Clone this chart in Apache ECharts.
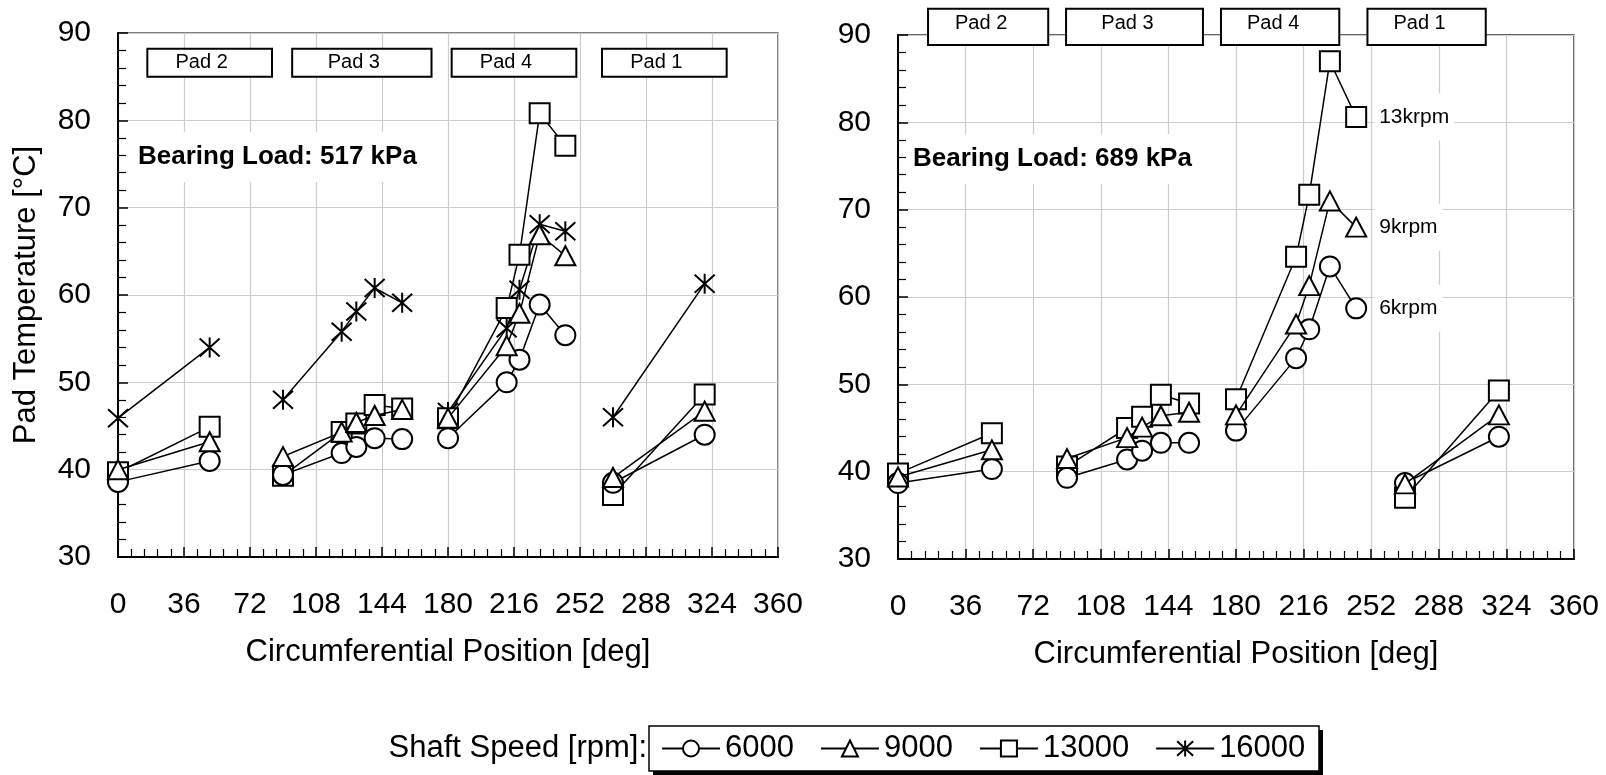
<!DOCTYPE html>
<html><head><meta charset="utf-8">
<script src="https://cdn.jsdelivr.net/npm/echarts@6/dist/echarts.min.js"></script>
<style>html,body{margin:0;padding:0;background:#fff}#c{width:1606px;height:775px}</style>
</head><body><div id="c"></div>
<script>
// ---- data ----
const positions = [0, 50, null, 90, 122, 130, 140, 155, null, 180, 212, 219, 230, 244, null, 270, 320];
const speeds = ['6000', '9000', '13000', '16000'];
// Bearing load 517 kPa (left)
const load517_6000  = [38.6, 41.0, null, 39.4, 41.9, 42.6, 43.6, 43.5, null, 43.6, 50.0, 52.6, 58.9, 55.4, null, 38.5, 44.0];
const load517_9000  = [40.0, 43.2, null, 41.5, 44.3, 45.4, 46.2, 46.9, null, 45.9, 54.2, 57.9, 66.9, 64.5, null, 39.1, 46.7];
const load517_13000 = [39.7, 44.9, null, 39.3, 44.3, 45.3, 47.4, 47.0, null, 45.9, 58.5, 64.6, 80.8, 77.1, null, 37.1, 48.6];
const load517_16000 = [45.9, 54.0, null, 48.0, 55.8, 58.1, 60.8, 59.1, null, 46.6, 56.2, 60.6, 68.1, 67.3, null, 46.0, 61.3];
// Bearing load 689 kPa (right)
const load689_6000  = [38.7, 40.3, null, 39.3, 41.4, 42.4, 43.3, 43.3, null, 44.7, 53.0, 56.3, 63.5, 58.7, null, 38.7, 44.0];
const load689_9000  = [39.4, 42.5, null, 41.5, 43.9, 45.1, 46.4, 46.8, null, 46.5, 56.9, 61.3, 71.0, 68.0, null, 38.6, 46.5];
const load689_13000 = [39.8, 44.4, null, 40.6, 45.0, 46.3, 48.8, 47.8, null, 48.3, 64.6, 71.7, 87.0, 80.6, null, 37.0, 49.3];
const endLabels689 = ['6krpm', '9krpm', '13krpm'];
const endLabelIndex = 13;
const padNames = ['Pad 2', 'Pad 3', 'Pad 4', 'Pad 1'];
const padSpansLeft  = [[16, 84], [95, 171], [182, 250], [264, 332]];
const padSpansRight = [[16, 80], [89.5, 162.4], [172, 235], [250, 313]];
const loadTexts = ['Bearing Load: 517 kPa', 'Bearing Load: 689 kPa'];
const xTitle = 'Circumferential Position [deg]';
const yTitle = 'Pad Temperature [°C]';
const legendTitle = 'Shaft Speed [rpm]:';

// ---- styles ----
const FONT = "'Liberation Sans', Arial, sans-serif";
const STAR = 'path://M10,0L10,20M1,1L19,19M1,19L19,1';
const symbols = { '6000': 'circle', '9000': 'triangle', '13000': 'rect', '16000': STAR };
const symSizes = { '6000': 20, '9000': [20, 19], '13000': 20, '16000': 20 };
const zOrder = { '16000': 2, '13000': 3, '6000': 4, '9000': 5 };

function buildData(vals, label) {
  return positions.map((x, i) => {
    if (x === null || vals[i] === null) return [null, null];
    if (label && i === endLabelIndex) {
      return { value: [x, vals[i]], label: {
        show: true, formatter: label, position: 'right', distance: 7,
        fontSize: 21, fontFamily: FONT, color: '#000', backgroundColor: '#fff', padding: [12, 5, 14, 5]
      } };
    }
    return [x, vals[i]];
  });
}
function mkSeries(name, vals, gi, label) {
  return {
    name, type: 'line', xAxisIndex: gi, yAxisIndex: gi, data: buildData(vals, label),
    symbol: symbols[name], symbolSize: symSizes[name], showSymbol: true, showAllSymbol: true,
    connectNulls: false, animation: false,
    lineStyle: { color: '#000', width: 1.5 },
    itemStyle: { color: '#fff', borderColor: '#000', borderWidth: 2 },
    emphasis: { disabled: true }, z: zOrder[name]
  };
}
function mkX(gi) {
  return {
    type: 'value', gridIndex: gi, min: 0, max: 360, interval: 36,
    axisLine: { show: true, onZero: false, lineStyle: { color: '#000', width: 2 } },
    axisTick: { show: true, inside: true, length: 10, lineStyle: { color: '#000', width: 1.5 } },
    minorTick: { show: true, splitNumber: 5, length: 8, lineStyle: { color: '#000', width: 1.2 } },
    splitLine: { show: true, lineStyle: { color: '#cccccc', width: 1.2 } },
    axisLabel: { fontSize: 30, fontFamily: FONT, color: '#000', margin: 33 },
    name: xTitle, nameLocation: 'middle', nameGap: 80,
    nameTextStyle: { fontSize: 31, fontFamily: FONT, color: '#000' }
  };
}
function mkY(gi, withName) {
  const y = {
    type: 'value', gridIndex: gi, min: 30, max: 90, interval: 10,
    axisLine: { show: true, onZero: false, lineStyle: { color: '#000', width: 2 } },
    axisTick: { show: true, inside: true, length: 10, lineStyle: { color: '#000', width: 1.5 } },
    minorTick: { show: true, splitNumber: 5, length: 8, lineStyle: { color: '#000', width: 1.2 } },
    splitLine: { show: true, lineStyle: { color: '#cccccc', width: 1.2 } },
    axisLabel: { fontSize: 30, fontFamily: FONT, color: '#000', margin: 27 }
  };
  if (withName) {
    y.name = yTitle; y.nameLocation = 'middle'; y.nameGap = 76;
    y.nameTextStyle = { fontSize: 31, fontFamily: FONT, color: '#000' };
  }
  return y;
}

const series = [
  mkSeries('6000', load517_6000, 0), mkSeries('9000', load517_9000, 0),
  mkSeries('13000', load517_13000, 0), mkSeries('16000', load517_16000, 0),
  mkSeries('6000', load689_6000, 1, endLabels689[0]), mkSeries('9000', load689_9000, 1, endLabels689[1]),
  mkSeries('13000', load689_13000, 1, endLabels689[2])
];

const chart = echarts.init(document.getElementById('c'), null, { renderer: 'canvas' });
chart.setOption({
  animation: false,
  backgroundColor: '#fff',
  grid: [
    { left: 118, top: 33, width: 660, height: 524, show: true, borderColor: '#555', borderWidth: 1.5, backgroundColor: 'transparent' },
    { left: 898, top: 35, width: 676, height: 524, show: true, borderColor: '#333', borderWidth: 1.5, backgroundColor: 'transparent' }
  ],
  xAxis: [mkX(0), mkX(1)],
  yAxis: [mkY(0, true), mkY(1, false)],
  legend: {
    data: speeds, left: 649, top: 726, orient: 'horizontal', z: 10,
    itemWidth: 58, itemHeight: 20, itemGap: 26, padding: [7, 16, 7, 12],
    textStyle: { fontSize: 31, fontFamily: FONT, color: '#000' },
    borderWidth: 0, backgroundColor: 'transparent',
    selectedMode: false
  },
  series
});

// ---- annotations (pad boxes, load texts, legend frame and title) ----
const g = [];
function addPads(gi, spans, yTop, yBot, dx, dy) {
  spans.forEach((s, i) => {
    const p1 = chart.convertToPixel({ gridIndex: gi }, [s[0], yTop]);
    const p2 = chart.convertToPixel({ gridIndex: gi }, [s[1], yBot]);
    g.push({ type: 'rect', z: 100, shape: { x: p1[0], y: p1[1], width: p2[0] - p1[0], height: p2[1] - p1[1] },
      style: { fill: '#fff', stroke: '#000', lineWidth: 2 } });
    g.push({ type: 'text', z: 101, x: (p1[0] + p2[0]) / 2 + dx, y: (p1[1] + p2[1]) / 2 + dy,
      style: { text: padNames[i], fontSize: 20, fontFamily: FONT, fill: '#000', align: 'center', verticalAlign: 'middle' } });
  });
}
addPads(0, padSpansLeft, 88.2, 85.0, -8, 0);
addPads(1, padSpansRight, 93.0, 88.85, -7, -3);
[[0, 10.9, 75.8], [1, 8.0, 75.8]].forEach(([gi, x, y]) => {
  const p = chart.convertToPixel({ gridIndex: gi }, [x, y]);
  g.push({ type: 'text', z: 90, x: p[0] - 6, y: p[1],
    style: { text: loadTexts[gi], fontSize: 26, fontWeight: 'bold', fontFamily: FONT, fill: '#000',
      align: 'left', verticalAlign: 'middle', backgroundColor: '#fff', padding: [10, 6, 14, 6] } });
});
// legend frame with drop shadow
g.push({ type: 'rect', z: 1, shape: { x: 653, y: 730, width: 670, height: 45 }, style: { fill: '#000' } });
g.push({ type: 'rect', z: 2, shape: { x: 649, y: 726, width: 670, height: 45 }, style: { fill: '#fff', stroke: '#000', lineWidth: 1.5 } });
g.push({ type: 'text', z: 90, x: 647, y: 748,
  style: { text: legendTitle, fontSize: 31, fontFamily: FONT, fill: '#000', align: 'right', verticalAlign: 'middle' } });
chart.setOption({ graphic: g });
</script></body></html>
